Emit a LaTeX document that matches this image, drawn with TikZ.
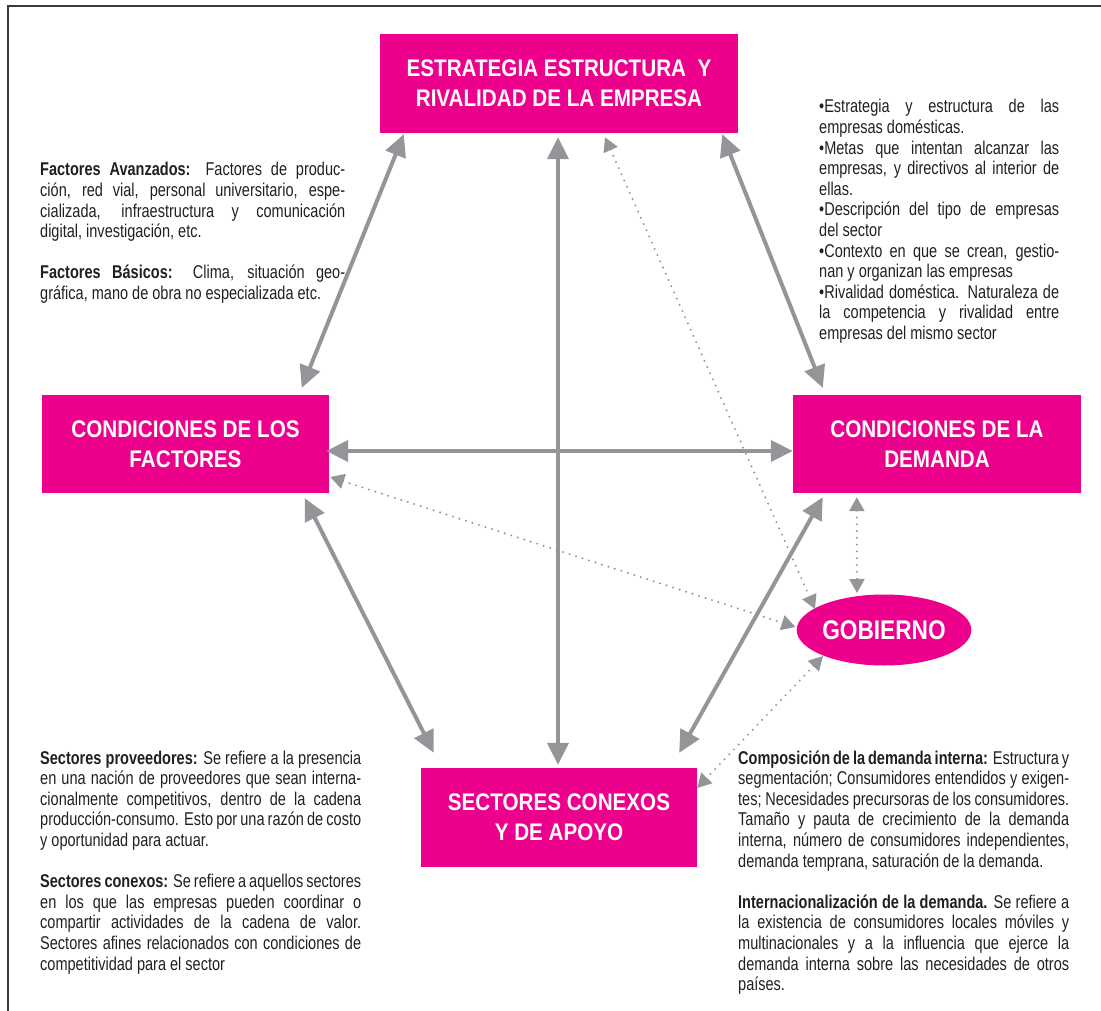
\documentclass[tikz,border=0pt]{standalone}
\usepackage{fontspec}
\setmainfont{Liberation Sans}
\newfontfamily\bodyfont[FakeStretch=0.785]{Liberation Sans}
\newfontfamily\headfont[FakeStretch=0.86]{Liberation Sans}
\newfontfamily\gobfont[FakeStretch=0.84]{Liberation Sans}
\usetikzlibrary{arrows.meta,shapes.geometric,calc}
\definecolor{magpink}{HTML}{EC008C}
\definecolor{arrgray}{HTML}{939598}
\definecolor{txtcol}{HTML}{231F20}
\definecolor{framecol}{HTML}{3A3A3A}
\newlength\blkw
\newcommand{\JL}[1]{\hbox to \blkw{#1}}
\newcommand{\LL}[1]{\hbox to \blkw{#1\hfil}}
\newcommand{\GAP}{\vskip\baselineskip}
\tikzset{
  box/.style={rectangle, fill=magpink, text=white, align=center, inner sep=0pt,
    font=\headfont\bfseries\fontsize{24}{30}\selectfont},
  gobbox/.style={ellipse, fill=magpink, text=white, inner sep=0pt,
    minimum width=158pt, minimum height=71pt,
    font=\gobfont\bfseries\fontsize{27}{32}\selectfont},
  body/.style={anchor=base west, inner sep=0pt, text=txtcol,
    font=\bodyfont\fontsize{18.5}{20.6}\selectfont},
  biarrow/.style={draw=arrgray, line width=4pt,
    {Triangle[length=22pt,width=21pt]}-{Triangle[length=22pt,width=21pt]}},
  dotarrow/.style={draw=arrgray, line width=2.2pt, line cap=round,
    dash pattern=on 0pt off 6.8pt,
    {Triangle[length=14pt,width=15pt]}-{Triangle[length=14pt,width=15pt]}}
}
\begin{document}
\begin{tikzpicture}[x=1pt,y=-1pt]
\useasboundingbox (0,0) rectangle (1101,1011);
% frame
\draw[framecol, line width=1.4pt] (8,1011) -- (8,6.5);
\draw[framecol, line width=2pt] (7.3,6.5) -- (1101,6.5);

% main boxes
\node[box, minimum width=358pt, minimum height=99pt] (top) at (559,83.5)
  {ESTRATEGIA ESTRUCTURA\ \ Y\\RIVALIDAD DE LA EMPRESA};
\node[box, minimum width=287pt, minimum height=98pt] (fac) at (185.5,444)
  {CONDICIONES DE LOS\\FACTORES};
\node[box, minimum width=288pt, minimum height=98pt] (dem) at (937,444)
  {CONDICIONES DE LA\\DEMANDA};
\node[box, minimum width=276pt, minimum height=99pt] (sec) at (559,817.5)
  {SECTORES CONEXOS\\Y DE APOYO};
\node[gobbox] (gob) at (884,630) {GOBIERNO};

% solid connectors
\draw[biarrow] ($(top.south west)+(24,1)$) -- ($(fac.north west)+(260,-7)$);
\draw[biarrow] ($(top.south east)+(-16,1)$) -- ($(dem.north west)+(30,-7)$);
\draw[biarrow] ($(top.south)+(-1,4)$) -- ($(sec.north)+(-1,-3)$);
\draw[biarrow] ($(fac.east)+(-3,7)$) -- ($(dem.west)+(0,7)$);
\draw[biarrow] ($(fac.south west)+(263,5)$) -- ($(sec.north west)+(13,-15)$);
\draw[biarrow] ($(dem.south west)+(30,4)$) -- ($(sec.north east)+(-18,-15)$);

% dotted connectors
\draw[dotarrow] ($(top.south)+(46,4)$) -- ($(gob.center)+(-69,-21)$);
\draw[dotarrow] ($(fac.east)+(1,33)$) -- ($(gob.west)+(-1,-3)$);
\draw[dotarrow] ($(dem.south west)+(64,4)$) -- ($(gob.center)+(-27,-37)$);
\draw[dotarrow] ($(gob.center)+(-61,26)$) -- ($(sec.east)+(0,-29.5)$);

% texts
\node[body] (txtfac) at (40,176) {\vtop{\blkw=305pt
\JL{\textbf{Factores Avanzados:} Factores de produc-}
\JL{ción, red vial, personal universitario, espe-}
\JL{cializada, infraestructura y comunicación}
\LL{digital, investigación, etc.}
\GAP
\JL{\textbf{Factores Básicos:} Clima, situación geo-}
\LL{gráfica, mano de obra no especializada etc.}
}};

\node[body] (txtest) at (819,113) {\vtop{\blkw=240pt
\JL{•Estrategia y estructura de las}
\LL{empresas domésticas.}
\JL{•Metas que intentan alcanzar las}
\JL{empresas, y directivos al interior de}
\LL{ellas.}
\JL{•Descripción del tipo de empresas}
\LL{del sector}
\JL{•Contexto en que se crean, gestio-}
\LL{nan y organizan las empresas}
\JL{•Rivalidad doméstica. Naturaleza de}
\JL{la competencia y rivalidad entre}
\LL{empresas del mismo sector}
}};

\node[body] (txtsec) at (40,764) {\vtop{\blkw=321pt
\JL{\textbf{Sectores proveedores:} Se refiere a la presencia}
\JL{en una nación de proveedores que sean interna-}
\JL{cionalmente competitivos, dentro de la cadena}
\JL{producción-consumo. Esto por una razón de costo}
\LL{y oportunidad para actuar.}
\GAP
\JL{\textbf{Sectores conexos:} Se refiere a aquellos sectores}
\JL{en los que las empresas pueden coordinar o}
\JL{compartir actividades de la cadena de valor.}
\JL{Sectores afines relacionados con condiciones de}
\LL{competitividad para el sector}
}};

\node[body] (txtdem) at (738,764) {\vtop{\blkw=331pt
\JL{\textbf{Composición de la demanda interna:} Estructura y}
\JL{segmentación; Consumidores entendidos y exigen-}
\JL{tes; Necesidades precursoras de los consumidores.}
\JL{Tamaño y pauta de crecimiento de la demanda}
\JL{interna, número de consumidores independientes,}
\LL{demanda temprana, saturación de la demanda.}
\GAP
\JL{\textbf{Internacionalización de la demanda.} Se refiere a}
\JL{la existencia de consumidores locales móviles y}
\JL{multinacionales y a la influencia que ejerce la}
\JL{demanda interna sobre las necesidades de otros}
\LL{países.}
}};
\end{tikzpicture}
\end{document}
